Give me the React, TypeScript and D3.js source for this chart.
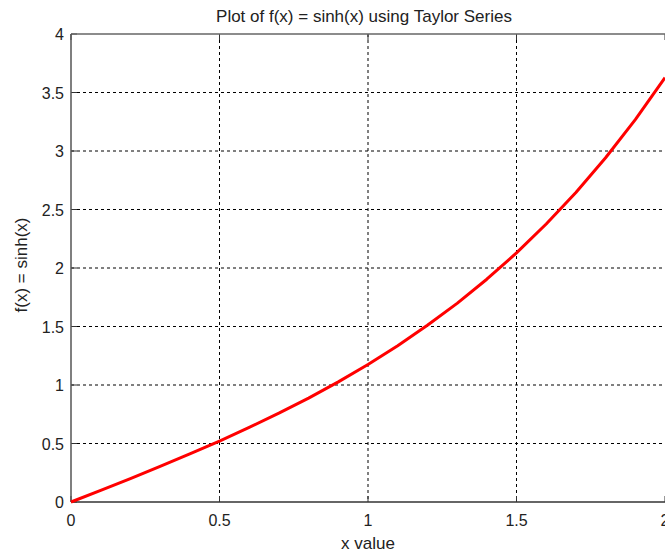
import React from "react";
import * as d3 from "d3";

const xValues = [0, 0.1, 0.2, 0.3, 0.4, 0.5, 0.6, 0.7, 0.8, 0.9, 1.0, 1.1, 1.2, 1.3, 1.4, 1.5, 1.6, 1.7, 1.8, 1.9, 2.0];
const yValues = [0, 0.1, 0.2, 0.305, 0.411, 0.521, 0.637, 0.759, 0.888, 1.027, 1.175, 1.336, 1.51, 1.698, 1.904, 2.129, 2.376, 2.646, 2.942, 3.268, 3.627];
const xTicks = [0, 0.5, 1, 1.5, 2];
const yTicks = [0, 0.5, 1, 1.5, 2, 2.5, 3, 3.5, 4];
const xTickLabels = ["0", "0.5", "1", "1.5", "2"];
const yTickLabels = ["0", "0.5", "1", "1.5", "2", "2.5", "3", "3.5", "4"];
const title = "Plot of f(x) = sinh(x) using Taylor Series";
const xLabel = "x value";
const yLabel = "f(x) = sinh(x)";

export default function App() {
  const W = 665, H = 552;
  const left = 71, right = 665, top = 34, bottom = 502;
  const x = d3.scaleLinear().domain([0, 2]).range([left, right]);
  const y = d3.scaleLinear().domain([0, 4]).range([bottom, top]);
  const pts: [number, number][] = xValues.map((v, i) => [v, yValues[i]]);
  const line = d3.line<[number, number]>().x(d => x(d[0])).y(d => y(d[1]));
  const font = "'Liberation Sans', Arial, sans-serif";
  const tl = 6;
  return (
    <svg width={W} height={H} style={{ position: "absolute", left: 0, top: 0, background: "#fff" }} fontFamily={font}>
      <rect x={0} y={0} width={W} height={H} fill="#fff" />
      {/* grid */}
      {xTicks.slice(1, -1).map(t => (
        <line key={"gx" + t} x1={x(t)} x2={x(t)} y1={top} y2={bottom} stroke="#000" strokeWidth={1} strokeDasharray="3,3" />
      ))}
      {yTicks.slice(1, -1).map(t => (
        <line key={"gy" + t} x1={left} x2={right} y1={y(t)} y2={y(t)} stroke="#000" strokeWidth={1} strokeDasharray="3,3" />
      ))}
      {/* inner ticks */}
      {xTicks.map(t => (
        <g key={"xtk" + t}>
          <line x1={x(t)} x2={x(t)} y1={bottom} y2={bottom - tl} stroke="#333" strokeWidth={1} />
          <line x1={x(t)} x2={x(t)} y1={top} y2={top + tl} stroke="#333" strokeWidth={1} />
        </g>
      ))}
      {yTicks.map(t => (
        <line key={"ytk" + t} x1={left} x2={left + tl} y1={y(t)} y2={y(t)} stroke="#333" strokeWidth={1} />
      ))}
      {/* frame */}
      <line x1={left} x2={right} y1={top} y2={top} stroke="#666" strokeWidth={1.5} />
      <line x1={left} x2={left} y1={top} y2={bottom} stroke="#555" strokeWidth={1.5} />
      <line x1={left} x2={right} y1={bottom} y2={bottom} stroke="#333" strokeWidth={1.5} />
      {/* tick labels */}
      {xTicks.map((t, i) => (
        <text key={"xt" + t} x={x(t)} y={bottom + 24} textAnchor="middle" fontSize={16} fill="#222">{xTickLabels[i]}</text>
      ))}
      {yTicks.map((t, i) => (
        <text key={"yt" + t} x={left - 7} y={y(t) + 6} textAnchor="end" fontSize={16} fill="#222">{yTickLabels[i]}</text>
      ))}
      {/* curve */}
      <path d={line(pts) || ""} fill="none" stroke="#ff0000" strokeWidth={3} strokeLinejoin="round" />
      {/* labels */}
      <text x={(left + right) / 2 - 4} y={22} textAnchor="middle" fontSize={17} fill="#222">{title}</text>
      <text x={(left + right) / 2} y={549} textAnchor="middle" fontSize={17} fill="#222">{xLabel}</text>
      <text transform={`translate(27,${(top + bottom) / 2 - 3}) rotate(-90)`} textAnchor="middle" fontSize={17} fill="#222">{yLabel}</text>
    </svg>
  );
}
